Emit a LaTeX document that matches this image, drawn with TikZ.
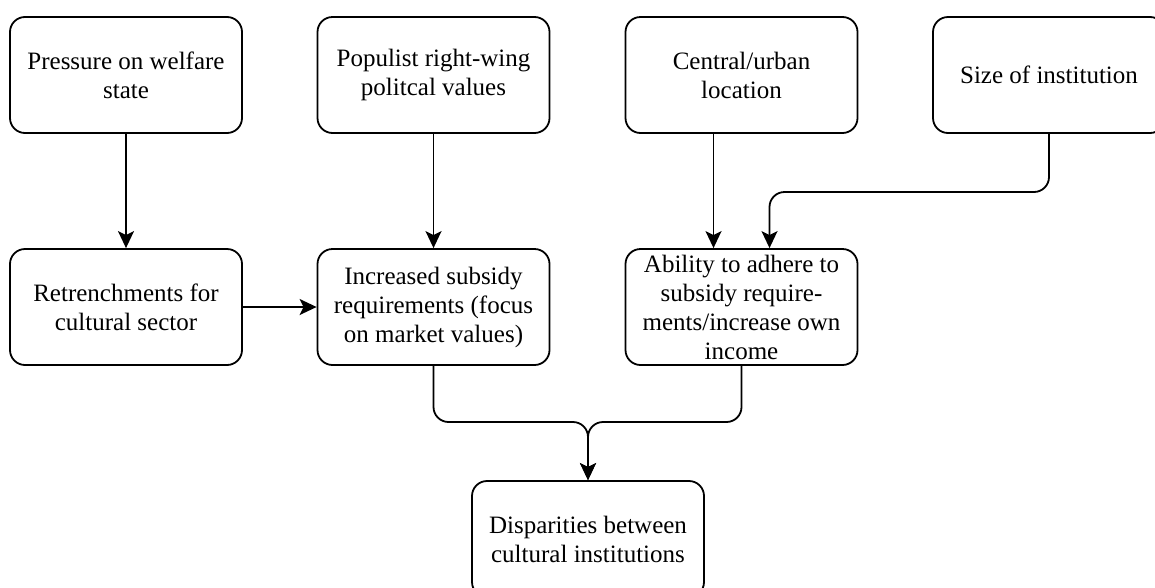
\documentclass[tikz,border=0pt]{standalone}
\usepackage{fontspec}
\setmainfont{Liberation Serif}
\usepackage{tikz}
\usetikzlibrary{positioning,calc,arrows.meta}

\begin{document}
\begin{tikzpicture}[x=1pt, y=-1pt,
    box/.style={draw, line width=1.8pt, rounded corners=15pt, minimum width=232pt,
        minimum height=116pt, inner sep=0pt, align=center,
        font=\fontsize{25}{29}\selectfont},
    conn/.style={line width=1.8pt, -{Stealth[length=17pt, width=16pt, inset=4pt]}}]
    \useasboundingbox (0,0) rectangle (1155,587);

    % Top row
    \node [box] (pressure) at (126, 75) {Pressure on welfare\\state};
    \node [box] (populist) at (433.5, 75) {Populist right-wing\\politcal values};
    \node [box] (central) at (741.5, 75) {Central/urban\\location};
    \node [box] (size) at (1049, 75) {Size of institution};

    % Middle row
    \node [box] (retrench) at (126, 307) {Retrenchments for\\cultural sector};
    \node [box] (subsidy) at (433.5, 307) {Increased subsidy\\requirements (focus\\on market values)};
    \node [box] (ability) at (741.5, 307) {Ability to adhere to\\subsidy require-\\ments/increase own\\income};

    % Outcome
    \node [box] (disparity) at (588, 539) {Disparities between\\cultural institutions};

    % Connectors
    \coordinate (bend) at (0, 192);
    \coordinate (merge) at (588, 422);
    \draw [conn] (pressure) -- (retrench);
    \draw [conn] (populist) -- (subsidy);
    \draw [conn] ([xshift=-28pt]central.south) -- ([xshift=-28pt]ability.north);
    \draw [conn, rounded corners=15pt] (size.south) -- (size.south |- bend) -| ([xshift=28pt]ability.north);
    \draw [conn] (retrench) -- (subsidy);
    \draw [conn, rounded corners=15pt] (subsidy.south) |- (merge) -- (disparity.north);
    \draw [conn, rounded corners=15pt] (ability.south) |- (merge) -- (disparity.north);
\end{tikzpicture}
\end{document}
